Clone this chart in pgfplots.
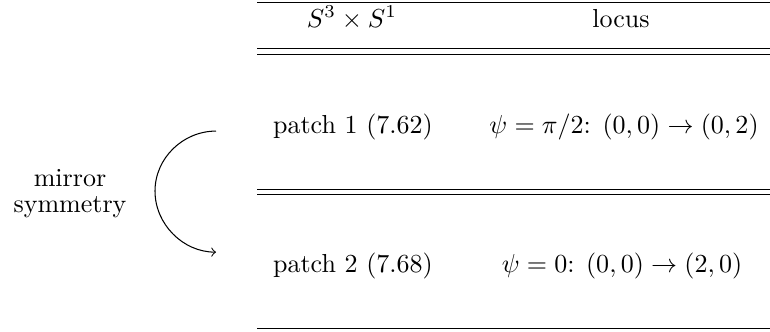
\documentclass[border=0pt]{standalone}
\usepackage{pgfplots}
\pgfplotsset{compat=1.18}
\usepackage{amsmath}

\begin{document}
\begin{tikzpicture}
\begin{axis}[
    scale only axis,
    width=296pt,
    height=127.3pt,
    xmin=0, xmax=770,
    ymin=0, ymax=331,
    y dir=reverse,
    hide axis,
    clip=false,
]
% table rules
\addplot[black, line width=0.5pt] coordinates {(257,2.7)(770,2.7)};
\addplot[black, line width=0.45pt] coordinates {(257,48.7)(770,48.7)};
\addplot[black, line width=0.45pt] coordinates {(257,54.3)(770,54.3)};
\addplot[black, line width=0.45pt] coordinates {(257,189)(770,189)};
\addplot[black, line width=0.45pt] coordinates {(257,194.3)(770,194.3)};
\addplot[black, line width=0.5pt] coordinates {(257,328.5)(770,328.5)};

% header
\node[anchor=base] at (axis cs:352,27) {$S^3\times S^1$};
\node[anchor=base] at (axis cs:621,27) {locus};

% rows
\node[anchor=base] at (axis cs:353,133) {patch 1 (7.62)};
\node[anchor=base] at (axis cs:624,133) {$\psi=\pi/2$: $(0,0)\to(0,2)$};
\node[anchor=base] at (axis cs:353,272) {patch 2 (7.68)};
\node[anchor=base] at (axis cs:622,272) {$\psi=0$: $(0,0)\to(2,0)$};

% mirror arrow
\node[anchor=base] at (axis cs:70,186) {mirror};
\node[anchor=base] at (axis cs:70,212) {symmetry};
\draw[->, line width=0.4pt] (axis cs:216,131)
    .. controls (axis cs:183,131) and (axis cs:155,158) .. (axis cs:155,191)
    .. controls (axis cs:155,224) and (axis cs:183,252) .. (axis cs:216,252);
\end{axis}
\pgfresetboundingbox
\path (current axis.south west) rectangle (current axis.north east);
\end{tikzpicture}
\end{document}
